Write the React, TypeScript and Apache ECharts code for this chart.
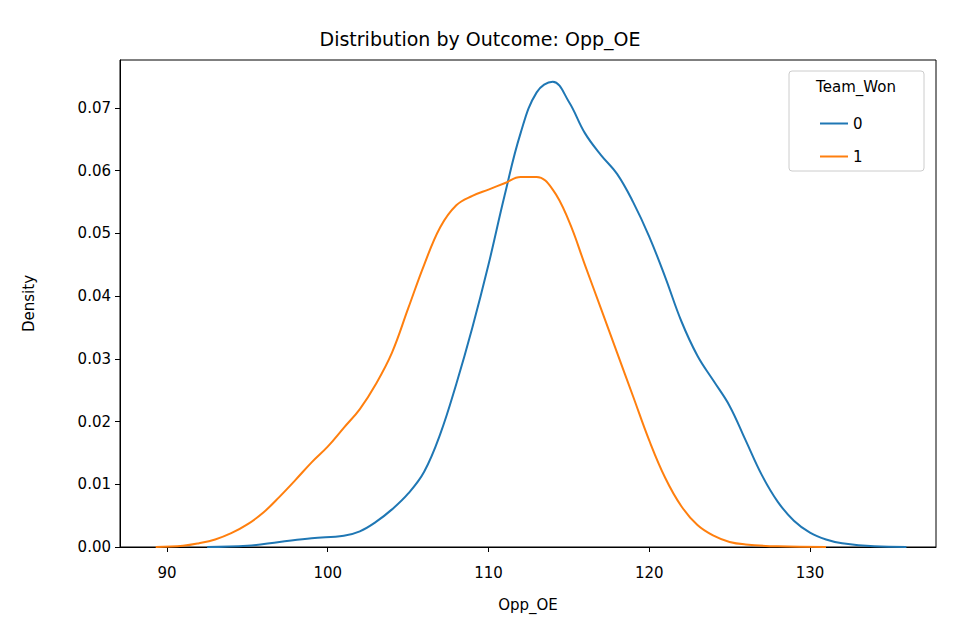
import React, { useEffect, useRef } from "react";
import * as echarts from "echarts";

const xWon0 = [92.5, 95, 97, 99, 101, 102, 103, 104, 105, 106, 107, 108, 109, 110, 111, 112, 113, 114, 115, 116, 117, 118, 119, 120, 121, 122, 123, 124, 125, 126, 127, 128, 129, 130, 131, 132, 134, 136];
const yWon0 = [0, 0.0002, 0.0008, 0.0014, 0.0018, 0.0025, 0.004, 0.006, 0.0085, 0.012, 0.018, 0.026, 0.035, 0.045, 0.056, 0.066, 0.0725, 0.0742, 0.071, 0.066, 0.0625, 0.0595, 0.055, 0.0495, 0.043, 0.036, 0.0305, 0.0265, 0.0225, 0.017, 0.0115, 0.0072, 0.0042, 0.0023, 0.0012, 0.0006, 0.0001, 0];
const xWon1 = [89.3, 91, 92, 93, 94, 95, 96, 97, 98, 99, 100, 101, 102, 103, 104, 105, 106, 107, 108, 109, 110, 111, 112, 113, 114, 115, 116, 117, 118, 119, 120, 121, 122, 123, 124, 125, 126, 128, 131];
const yWon1 = [0, 0.0002, 0.0006, 0.0012, 0.0022, 0.0036, 0.0055, 0.008, 0.0107, 0.0135, 0.016, 0.019, 0.022, 0.026, 0.031, 0.038, 0.045, 0.051, 0.0545, 0.056, 0.057, 0.058, 0.059, 0.059, 0.057, 0.052, 0.045, 0.038, 0.031, 0.024, 0.017, 0.011, 0.0065, 0.0035, 0.0018, 0.0008, 0.0004, 0.0001, 0];
const xTicks = [90, 100, 110, 120, 130];

const font = "DejaVu Sans";

export default function App() {
  const ref = useRef<HTMLDivElement | null>(null);
  useEffect(() => {
    document.body.style.margin = "0";
    if (!ref.current) return;
    const chart = echarts.init(ref.current, null, { renderer: "svg" });
    const zip = (xs: number[], ys: number[]) => xs.map((x, i) => [x, ys[i]]);
    chart.setOption({
      animation: false,
      textStyle: { fontFamily: font },
      title: {
        text: "Distribution by Outcome: Opp_OE",
        left: "center",
        top: 24,
        textStyle: { fontFamily: font, fontSize: 19, fontWeight: "normal", color: "#000" },
      },
      grid: { left: 120, right: 24, top: 60, bottom: 93, show: true, borderColor: "#000", borderWidth: 1 },
      xAxis: {
        type: "value",
        min: 87.08,
        max: 137.84,
        name: "Opp_OE",
        nameLocation: "middle",
        nameGap: 50,
        nameTextStyle: { fontSize: 15, color: "#000", fontFamily: font },
        axisLine: { show: true, lineStyle: { color: "#000" } },
        axisTick: { show: true, length: 5, lineStyle: { color: "#000" }, customValues: xTicks },
        axisLabel: { fontSize: 15, color: "#000", margin: 18, customValues: xTicks },
        splitLine: { show: false },
      },
      yAxis: {
        type: "value",
        min: 0,
        max: 0.07766,
        interval: 0.01,
        name: "Density",
        nameLocation: "middle",
        nameGap: 84,
        nameTextStyle: { fontSize: 15, color: "#000", fontFamily: font },
        axisLine: { show: true, lineStyle: { color: "#000" } },
        axisTick: { show: true, length: 5, lineStyle: { color: "#000" } },
        axisLabel: { fontSize: 15, color: "#000", margin: 9, formatter: (v: number) => v.toFixed(2), showMaxLabel: false },
        splitLine: { show: false },
      },
      legend: {
        orient: "vertical",
        left: 815,
        top: 111,
        itemGap: 18,
        icon: "rect",
        itemWidth: 28,
        itemHeight: 2,
        textStyle: { fontSize: 15, color: "#000", fontFamily: font },
        data: ["0", "1"],
      },
      graphic: [
        {
          type: "rect",
          shape: { x: 789, y: 71, width: 135, height: 100, r: 3 },
          style: { fill: "rgba(255,255,255,0.8)", stroke: "#ccc", lineWidth: 1 },
          z: -1,
        },
        {
          type: "text",
          x: 856,
          y: 79,
          style: { text: "Team_Won", fontSize: 15, fill: "#000", fontFamily: font, align: "center" },
        },
      ],
      series: [
        { name: "0", type: "line", smooth: 0.4, showSymbol: false, data: zip(xWon0, yWon0), lineStyle: { color: "#1f77b4", width: 2 }, itemStyle: { color: "#1f77b4" } },
        { name: "1", type: "line", smooth: 0.4, showSymbol: false, data: zip(xWon1, yWon1), lineStyle: { color: "#ff7f0e", width: 2 }, itemStyle: { color: "#ff7f0e" } },
      ],
    });
    return () => chart.dispose();
  }, []);
  return <div ref={ref} style={{ width: 960, height: 640 }} />;
}
